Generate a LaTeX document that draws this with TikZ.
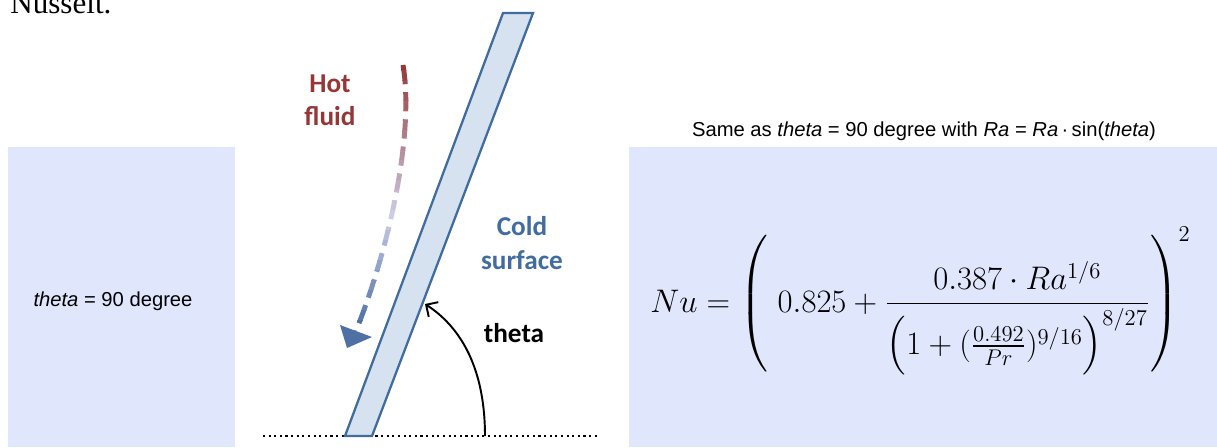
\documentclass[tikz,border=0pt]{standalone}
\usepackage{amsmath}
\usepackage{graphicx}
\usepackage{ifthen}
\usepackage{fontspec}
\newfontfamily\arialfont{Liberation Sans}
\newfontfamily\calibrifont{Carlito}
\newfontfamily\timesfont{Liberation Serif}
\usetikzlibrary{arrows.meta}

\definecolor{boxfill}{RGB}{224,230,252}
\definecolor{platefill}{RGB}{214,226,240}
\definecolor{plateedge}{RGB}{65,109,158}
\definecolor{hotred}{RGB}{150,55,55}
\definecolor{paleflow}{RGB}{205,205,232}
\definecolor{coldblue}{RGB}{78,112,165}
\definecolor{coldtext}{RGB}{65,108,160}

\tikzset{
  panel/.style={fill=boxfill},
  caption/.style={font=\arialfont\fontsize{11.5}{14}\selectfont, inner sep=0pt},
  flowlabel/.style={font=\calibrifont\bfseries\fontsize{15.5}{19}\selectfont, align=center, inner sep=0pt},
  flowdash/.style={line width=2.8pt, dash pattern=on 11pt off 4.5pt},
}

\begin{document}
\begin{tikzpicture}[x=0.02cm,y=-0.02cm]
    \useasboundingbox (0,0) rectangle (1217,447);
    \clip (0,0) rectangle (1217,447);
    \node[anchor=base west, inner sep=0pt, font=\timesfont\fontsize{17.7}{20}\selectfont] (nusselt) at (10,13) {Nusselt.};

    \fill[panel] (8,147) rectangle (235,447);
    \fill[panel] (629,147) rectangle (1217,447);
    \node[caption] (vertical) at (113,301) {\textit{theta} = 90 degree};
    \node[caption] (sameas) at (924,131) {Same as \textit{theta} = 90 degree with \textit{Ra} = \textit{Ra}\,·\,sin(\textit{theta})};

    \draw[dotted, line width=1.2pt] (263,436) -- (600,436);
    \draw[fill=platefill, draw=plateedge, line width=1.3pt] (345,436) -- (503,13) -- (533,13) -- (372,436) -- cycle;

    \foreach \i in {0,...,26}{
        \pgfmathsetmacro{\ya}{60+10*\i}
        \pgfmathsetmacro{\yb}{\ya+10}
        \ifthenelse{\i < 15}{
            \pgfmathsetmacro{\mixp}{100*\i/15}
            \colorlet{flowcol}{paleflow!\mixp!hotred}
        }{
            \pgfmathsetmacro{\mixp}{100*(\i-15)/11}
            \colorlet{flowcol}{coldblue!\mixp!paleflow}
        }
        \begin{scope}
            \clip (300,\ya) rectangle (450,\yb);
            \draw[flowdash, flowcol] (403,65) .. controls (414,130) and (392,240) .. (356,331);
        \end{scope}
    }
    \fill[coldblue] (340,325) -- (372,337) -- (347,348) -- cycle;

    \node[flowlabel, text=hotred] (hot) at (330,100) {Hot\\fluid};
    \node[flowlabel, text=coldtext] (cold) at (522,243) {Cold\\surface};
    \node[flowlabel] (theta) at (514,333) {theta};

    \coordinate (arcbase) at (485,436);
    \coordinate (arctip) at (425,304);
    \draw[-{Straight Barb[length=5pt,width=10pt]}, line width=1.1pt] (arcbase) .. controls (485,370) and (462,328) .. (arctip);

    \node[anchor=base west, inner sep=0pt, font=\fontsize{17.28}{21}\selectfont] (nu) at (650,312)
        {\scalebox{1.076}{$Nu = \left( \rule[-33pt]{0pt}{75pt}\ 0.825 + \dfrac{0.387\cdot Ra^{1/6}}{\Bigl(1+(\frac{0.492}{Pr})^{9/16}\Bigr)^{8/27}} \right)^{2}$}};
\end{tikzpicture}
\end{document}
